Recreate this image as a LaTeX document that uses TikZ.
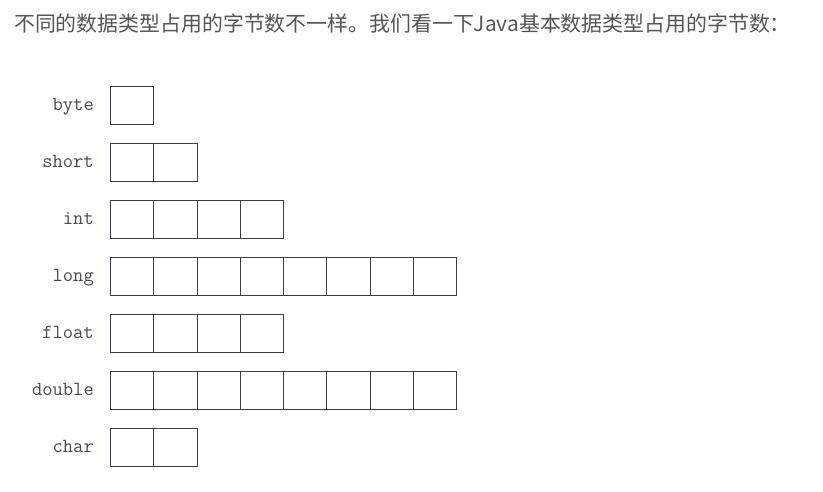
\documentclass[tikz,border=0pt]{standalone}
\usepackage{fontspec}
\newfontfamily\cjk{Noto Sans CJK SC}
\definecolor{titlegray}{HTML}{555555}
\definecolor{labelgray}{HTML}{4A4A4A}
\definecolor{boxgray}{HTML}{3C3C4A}
\begin{document}
\begin{tikzpicture}[x=1pt,y=-1pt,
  cell/.style={draw=boxgray,line width=1pt,minimum width=43.25pt,minimum height=38pt,inner sep=0pt,anchor=west},
  typelabel/.style={anchor=base east,inner sep=0pt,text=labelgray,font=\ttfamily\fontsize{20}{22}\selectfont}]
\useasboundingbox[fill=white] (0,0) rectangle (823,491);
\node[anchor=base west,inner sep=0pt,text=titlegray,font=\cjk\fontsize{20.9}{24}\selectfont] (title) at (14,31) {不同的数据类型占用的字节数不一样。我们看一下Java基本数据类型占用的字节数：};
\foreach \name/\n/\y in {byte/1/105,short/2/162,int/4/219,long/8/276,float/4/333,double/8/390,char/2/447}{
  \node[typelabel] (lbl-\name) at (94,\y+5.5) {\name};
  \foreach \i in {1,...,\n}{
    \node[cell] (c-\name-\i) at ({110+(\i-1)*43.25},\y) {};
  }
}
\end{tikzpicture}
\end{document}
